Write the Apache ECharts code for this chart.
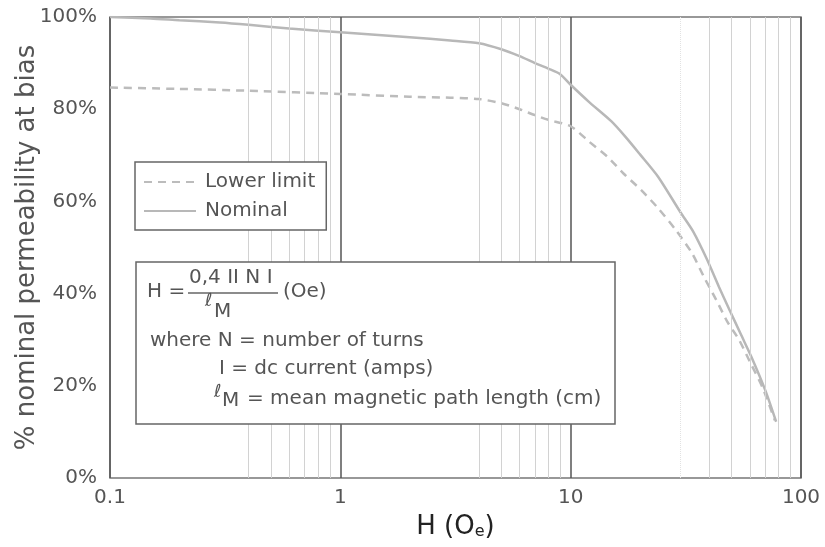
<!DOCTYPE html>
<html>
<head>
<meta charset="utf-8">
<script src="https://cdn.jsdelivr.net/npm/echarts@6/dist/echarts.min.js"></script>
<style>
html,body{margin:0;padding:0;background:#fff;}
#chart{width:825px;height:547px;}
</style>
</head>
<body>
<div id="chart"></div>
<script>
// H (Oe) vs % nominal permeability
const nominal = [
  [0.1,100],[0.15,99.7],[0.2,99.3],[0.3,98.8],[0.4,98.3],[0.6,97.5],[1,96.7],
  [2,95.6],[3,94.9],[4,94.3],[5,93.0],[6,91.5],[7,90.0],[8,88.8],[9,87.6],[10,85.3],
  [12,81.6],[15,77.4],[17.3,74],[20,70.2],[24,65.3],[30,57.6],[34,53.5],[39,47.5],
  [44,41.5],[49,36.4],[55,31],[61,26.2],[70,19],[78,12.2]
];
const lowerLimit = [
  [0.1,84.7],[0.2,84.4],[0.4,84.0],[1,83.3],[2,82.7],[3,82.5],[4,82.2],[5,81.3],
  [6,80],[7,78.7],[8,77.7],[10,76.3],[12,73],[14.5,69.6],[17,66],[20.2,62.5],[24,58.5],
  [28.6,53.8],[33.6,48.8],[38,43.5],[42.9,38.6],[48,33.8],[53.8,30],[60,25.2],[68,19.7],[77,12.5]
];
const minorGrid = [0.4,0.5,0.6,0.7,0.8,0.9,4,5,6,7,8,9,40,50,60,70,80,90];
const faintGrid = [30];
const xTicks = [0.1,1,10,100];
const yTicks = [0,20,40,60,80,100];
const seriesNames = ['Lower limit','Nominal'];

const FONT = 'DejaVu Sans';
const chart = echarts.init(document.getElementById('chart'));
chart.setOption({
  animation:false,
  backgroundColor:'#fff',
  grid:{left:110,right:24,top:17,bottom:69,show:true,borderColor:'#777',borderWidth:1.5,
    outerBoundsMode:'none',containLabel:false},
  legend:{
    data:seriesNames,orient:'vertical',left:135,top:162,z:20,zlevel:0,
    borderColor:'#666',borderWidth:1.5,backgroundColor:'#fff',
    padding:[10,11,9,8],itemWidth:52,itemHeight:14,itemGap:9,
    itemStyle:{opacity:0},
    textStyle:{fontFamily:FONT,fontSize:20,color:'#555',padding:[0,0,0,4]}
  },
  xAxis:{
    type:'log',logBase:10,min:xTicks[0],max:xTicks[xTicks.length-1],
    axisLine:{show:false},axisTick:{show:false},
    splitLine:{show:true,lineStyle:{color:'#555',width:1.5}},
    axisLabel:{fontFamily:FONT,fontSize:20,color:'#555',margin:10,
      formatter:v=>String(v)},
    name:'H (O{s|e})',nameLocation:'middle',nameGap:36,nameMoveOverlap:false,
    nameTextStyle:{fontFamily:FONT,fontSize:26,color:'#222',
      rich:{s:{fontFamily:FONT,fontSize:16,color:'#222',verticalAlign:'bottom',padding:[8,0,0,0]}}}
  },
  yAxis:{
    type:'value',min:yTicks[0],max:yTicks[yTicks.length-1],interval:20,
    axisLine:{show:false},axisTick:{show:false},splitLine:{show:false},
    axisLabel:{fontFamily:FONT,fontSize:20,color:'#555',margin:13,formatter:'{value}%'},
    name:'% nominal permeability at bias',nameLocation:'middle',nameGap:70,nameMoveOverlap:false,
    nameTextStyle:{fontFamily:FONT,fontSize:26,color:'#555'}
  },
  series:[
    {type:'line',name:'grid',data:[],silent:true,z:1,
      markLine:{silent:true,symbol:['none','none'],label:{show:false},
        data:minorGrid.map(v=>({xAxis:v,lineStyle:{color:'#d2d2d2',width:1,type:'solid'}}))
          .concat(faintGrid.map(v=>({xAxis:v,lineStyle:{color:'#e2e2e2',width:1,type:'dotted'}})))}
    },
    {type:'line',name:seriesNames[0],data:lowerLimit,smooth:0.25,symbol:'none',z:3,
      lineStyle:{color:'#bcbcbc',width:2.5,type:[8,6]},itemStyle:{color:'#bcbcbc'}},
    {type:'line',name:seriesNames[1],data:nominal,smooth:0.25,symbol:'none',z:3,
      lineStyle:{color:'#b8b8b8',width:2.5},itemStyle:{color:'#b8b8b8'}}
  ],
  graphic:[
    {type:'rect',z:10,shape:{x:136,y:262,width:479,height:162},
      style:{fill:'#fff',stroke:'#666',lineWidth:1.5}},
    {type:'text',z:11,left:147,top:282,style:{text:'H =',font:'20px "DejaVu Sans"',fill:'#555'}},
    {type:'text',z:11,left:189,top:268,style:{text:'0,4 II N I',font:'20px "DejaVu Sans"',fill:'#555'}},
    {type:'line',z:11,shape:{x1:188,y1:293,x2:278,y2:293},style:{stroke:'#666',lineWidth:1.5}},
    {type:'text',z:11,left:205,top:292,style:{text:'ℓ',font:'italic 18px "DejaVu Sans"',fill:'#555'}},
    {type:'text',z:11,left:214,top:302,style:{text:'M',font:'20px "DejaVu Sans"',fill:'#555'}},
    {type:'text',z:11,left:283,top:282,style:{text:'(Oe)',font:'20px "DejaVu Sans"',fill:'#555'}},
    {type:'text',z:11,left:150,top:331,style:{text:'where N = number of turns',font:'20px "DejaVu Sans"',fill:'#555'}},
    {type:'text',z:11,left:219,top:359,style:{text:'I = dc current (amps)',font:'20px "DejaVu Sans"',fill:'#555'}},
    {type:'text',z:11,left:214,top:383,style:{text:'ℓ',font:'italic 18px "DejaVu Sans"',fill:'#555'}},
    {type:'text',z:11,left:222,top:391,style:{text:'M',font:'20px "DejaVu Sans"',fill:'#555'}},
    {type:'text',z:11,left:247,top:389,style:{text:'= mean magnetic path length (cm)',font:'20px "DejaVu Sans"',fill:'#555'}}
  ]
});
</script>
</body>
</html>
